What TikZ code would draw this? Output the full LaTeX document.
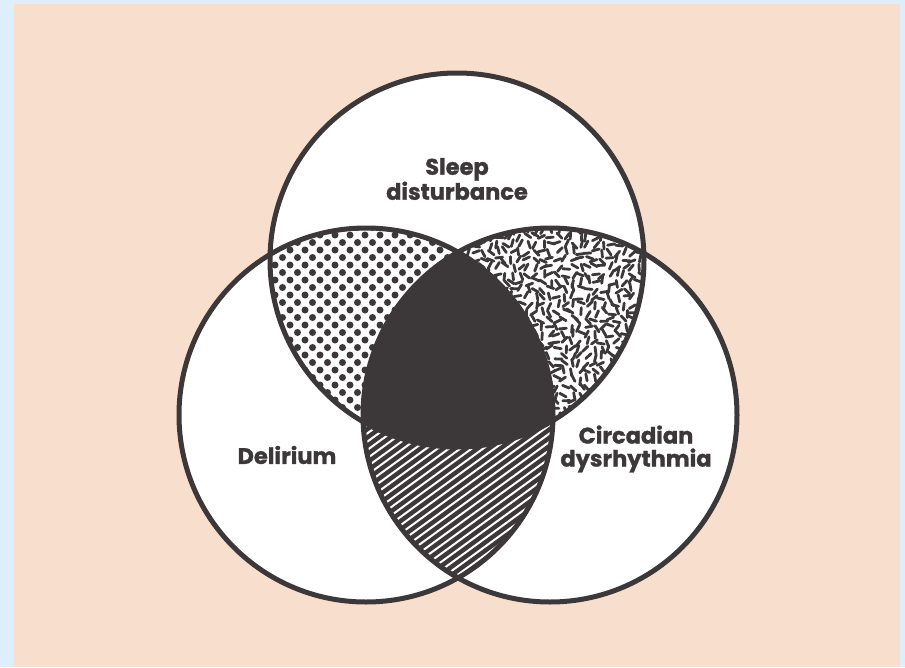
\documentclass[tikz,border=0pt]{standalone}
\usepackage{fontspec}
\newfontfamily\labfont{Poppins}[BoldFeatures={FakeBold=1.2}]
\definecolor{bgblue}{HTML}{DDEEFC}
\definecolor{peach}{HTML}{F8DFCD}
\definecolor{ink}{HTML}{3C383A}
\begin{document}
\begin{tikzpicture}[x=1pt,y=-1pt,
  lab/.style={font=\labfont\bfseries\fontsize{22.5}{23}\selectfont, text=ink, align=center, inner sep=0pt},
  ring/.style={draw=ink, line width=5pt}]
\useasboundingbox (0,0) rectangle (905,667);
\fill[bgblue] (0,0) rectangle (905,667);
\fill[peach] (14,4) rectangle (900,667);
\coordinate (T) at (457,260);
\coordinate (L) at (366,415);
\coordinate (R) at (550,415);
% white discs
\fill[white] (T) circle[radius=187pt];
\fill[white] (L) circle[radius=187pt];
\fill[white] (R) circle[radius=187pt];
% dots: top and left
\begin{scope}
\clip (T) circle[radius=187pt];
\clip (L) circle[radius=187pt];
\foreach \j in {0,...,29}{
  \foreach \i in {0,...,14}{
    \fill[ink] ({260+\i*15+mod(\j,2)*7.5},{220+\j*7.5}) circle[radius=3.5pt];
  }
}
\end{scope}
% dashes: top and right
\pgfmathsetseed{7}
\begin{scope}
\clip (T) circle[radius=187pt];
\clip (R) circle[radius=187pt];
\foreach \i in {0,...,28}{
  \foreach \j in {0,...,27}{
    \pgfmathsetmacro\xx{445+\i*7.5+rand*2.5}
    \pgfmathsetmacro\yy{222+\j*7.5+rand*2.5}
    \pgfmathsetmacro\aa{rnd*180}
    \draw[ink, line width=2.8pt, line cap=round] (\xx,\yy) ++(\aa:3.6pt) -- ++(\aa+180:7.2pt);
  }
}
\end{scope}
% hatching: left and right
\begin{scope}
\clip (L) circle[radius=187pt];
\clip (R) circle[radius=187pt];
\fill[ink] (R) circle[radius=187pt];
\foreach \k in {-40,...,40}{
  \draw[white, line width=2pt]
    ({458+\k*6.7*sin(36)-260*cos(36)},{500+\k*6.7*cos(36)+260*sin(36)}) --
    ({458+\k*6.7*sin(36)+260*cos(36)},{500+\k*6.7*cos(36)-260*sin(36)});
}
\end{scope}
% centre: all three
\begin{scope}
\clip (T) circle[radius=187pt];
\clip (L) circle[radius=187pt];
\fill[ink] (R) circle[radius=187pt];
\end{scope}
% outlines
\draw[ring] (T) circle[radius=187pt];
\draw[ring] (L) circle[radius=187pt];
\draw[ring] (R) circle[radius=187pt];
% labels
\node[lab] (sleep) at (457,179) {Sleep\\disturbance};
\node[lab] (delirium) at (287,455) {Delirium};
\node[lab] (circadian) at (636,449) {Circadian\\dysrhythmia};
\end{tikzpicture}
\end{document}
